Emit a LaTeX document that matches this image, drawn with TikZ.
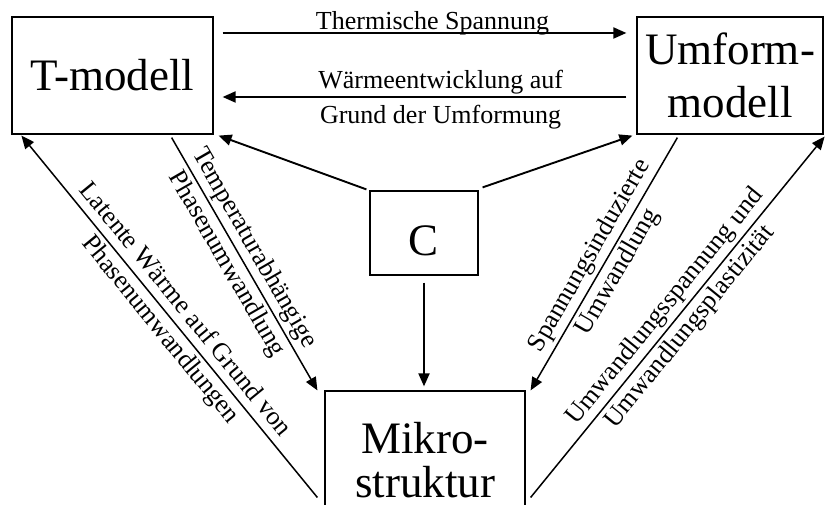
\documentclass[tikz,border=0pt]{standalone}
\usepackage{fontspec}
\setmainfont{Liberation Serif}
\usetikzlibrary{arrows.meta}

\begin{document}
\begin{tikzpicture}[x=1pt,y=1pt,
	box/.style={draw,line width=1.2pt,inner sep=0pt,align=center,font=\fontsize{45}{53}\selectfont},
	arr/.style={line width=1.9pt,-{Triangle[length=13pt,width=11pt]}},
	diag/.style={line width=1.5pt,-{Triangle[length=13pt,width=11pt]}},
	lbl/.style={font=\fontsize{26}{32}\selectfont,inner sep=0pt,align=center}]
		\useasboundingbox (0,0) rectangle (825,505);
		\node[box,minimum width=201pt,minimum height=117pt] (TM) at (112.5,429.5) {T-modell};
		\node[box,minimum width=186pt,minimum height=117pt] (UM) at (730,429.5) {Umform-\\modell};
		\node[box,minimum width=108pt,minimum height=84pt,text height=46pt,text depth=0pt] (C) at (424,272) {C};
		\node[box,minimum width=200pt,minimum height=139pt,font=\fontsize{45}{44}\selectfont] (MK) at (425,44.5) {Mikro-\\struktur};
		\draw[arr] ([xshift=9pt,yshift=42.5pt]TM.east) -- node[lbl,above=-3pt,pos=0.52]{Thermische Spannung} ([xshift=-10pt,yshift=42.5pt]UM.west);
		\draw[arr] ([xshift=-10pt,yshift=-21.5pt]UM.west) -- node[lbl,pos=0.46,yshift=-3pt,font=\fontsize{26}{35}\selectfont]{Wärmeentwicklung auf\\Grund der Umformung} ([xshift=9pt,yshift=-21.5pt]TM.east);
		\draw[arr] ([xshift=-3pt,yshift=1pt]C.north west) -- ([xshift=5pt,yshift=-1pt]TM.south east);
		\draw[arr] ([xshift=4pt,yshift=3pt]C.north east) -- ([xshift=-4pt,yshift=-1pt]UM.south west);
		\draw[arr,shorten <=7pt,shorten >=4pt] (C.south) -- (C.south |- MK.north);
		\draw[diag] ([xshift=-42pt,yshift=-3pt]TM.south east) -- node[lbl,sloped,pos=0.47]{Temperaturabhängige\\Phasenumwandlung} ([xshift=-7pt]MK.north west);
		\draw[diag] ([xshift=-7pt,yshift=-37pt]MK.west) -- node[lbl,sloped,pos=0.49]{Latente Wärme auf Grund von\\Phasenumwandlungen} ([xshift=10pt,yshift=-1pt]TM.south west);
		\draw[diag] ([xshift=41pt,yshift=-3pt]UM.south west) -- node[lbl,sloped,pos=0.5]{Spannungsinduzierte\\Umwandlung} ([xshift=5pt]MK.north east);
		\draw[diag] ([xshift=5pt,yshift=-37pt]MK.east) -- node[lbl,sloped,pos=0.5]{Umwandlungsspannung und\\Umwandlungsplastizität} ([xshift=1pt,yshift=-2pt]UM.south east);
	\end{tikzpicture}
\end{document}
